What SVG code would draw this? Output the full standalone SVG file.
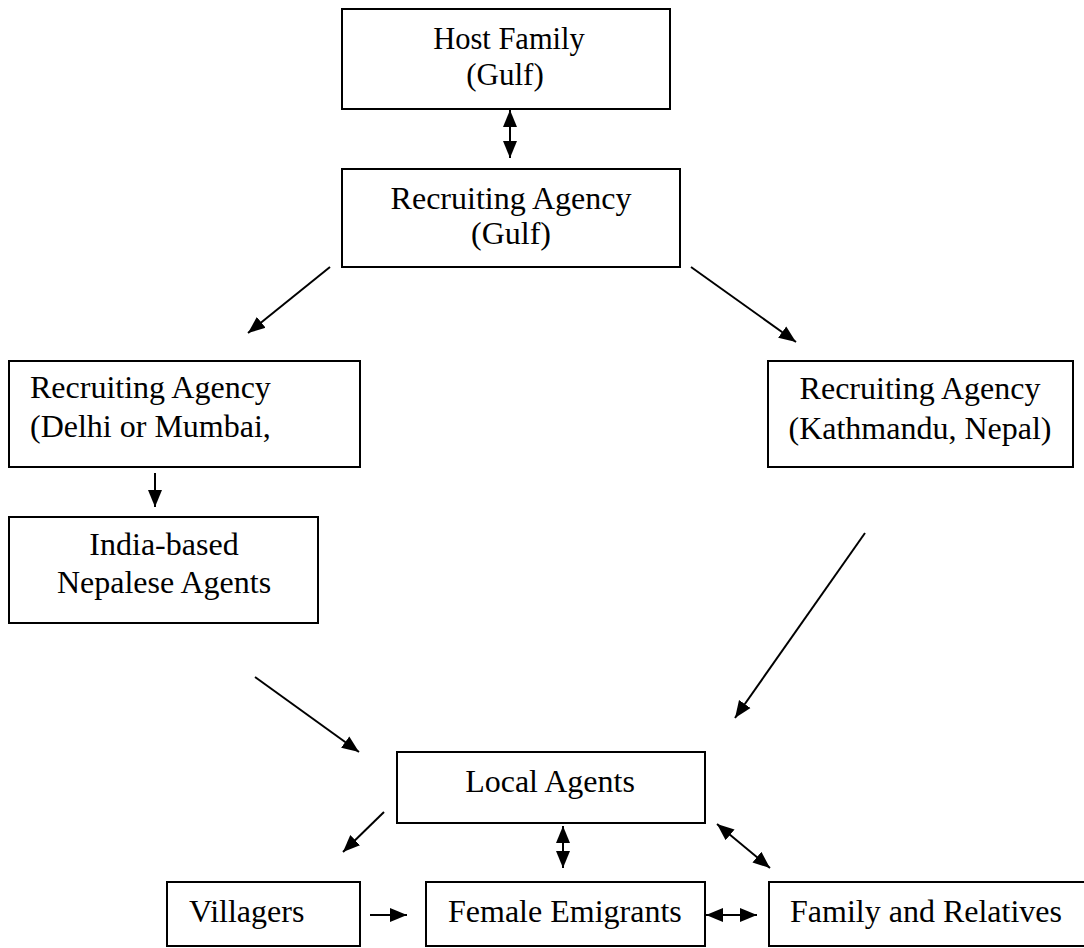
<svg xmlns="http://www.w3.org/2000/svg" width="1084" height="948" viewBox="0 0 1084 948">
<style>
.box{fill:#fff;stroke:#000;stroke-width:2}
.t{font-family:"Liberation Serif","Times New Roman",serif;font-size:32px;fill:#000}
.c{text-anchor:middle}
.ln{stroke:#000;stroke-width:2;fill:none}
</style>
<defs>
<marker id="ah" markerUnits="userSpaceOnUse" markerWidth="18" markerHeight="16" refX="17" refY="8" orient="auto-start-reverse" viewBox="0 0 18 16">
<path d="M0,1 L17,8 L0,15 z" fill="#000"/>
</marker>
</defs>
<rect width="1084" height="948" fill="#fff"/>
<g id="host-family"><rect class="box" x="342" y="9" width="328" height="100"/><text class="t c" x="509" y="49" style="font-size:30.5px">Host Family</text><text class="t c" x="505" y="85" style="font-size:31px">(Gulf)</text></g>
<g id="recruiting-gulf"><rect class="box" x="342" y="169" width="338" height="98"/><text class="t c" x="511" y="209">Recruiting Agency</text><text class="t c" x="511" y="244">(Gulf)</text></g>
<g id="recruiting-delhi"><rect class="box" x="9" y="361" width="351" height="106"/><text class="t" x="30" y="398">Recruiting Agency</text><text class="t" x="30" y="437">(Delhi or Mumbai,</text></g>
<g id="india-based"><rect class="box" x="9" y="517" width="309" height="106"/><text class="t c" x="164" y="555">India-based</text><text class="t c" x="164" y="593">Nepalese Agents</text></g>
<g id="recruiting-kathmandu"><rect class="box" x="768" y="361" width="305" height="106"/><text class="t c" x="920" y="399">Recruiting Agency</text><text class="t c" x="920" y="439">(Kathmandu, Nepal)</text></g>
<g id="local-agents"><rect class="box" x="397" y="752" width="308" height="71"/><text class="t c" x="550" y="792">Local Agents</text></g>
<g id="villagers"><rect class="box" x="167" y="882" width="193" height="64"/><text class="t" x="189" y="922">Villagers</text></g>
<g id="female-emigrants"><rect class="box" x="426" y="882" width="279" height="64"/><text class="t" x="448" y="922">Female Emigrants</text></g>
<g id="family-relatives"><rect class="box" x="769" y="882" width="340" height="64"/><text class="t" x="790" y="922">Family and Relatives</text></g>
<g id="connectors">
<line class="ln" x1="510" y1="110" x2="510" y2="158" marker-start="url(#ah)" marker-end="url(#ah)"/>
<line class="ln" x1="330" y1="267" x2="248" y2="333" marker-end="url(#ah)"/>
<line class="ln" x1="691" y1="267" x2="796" y2="342" marker-end="url(#ah)"/>
<line class="ln" x1="155" y1="473" x2="155" y2="507" marker-end="url(#ah)"/>
<line class="ln" x1="255" y1="677" x2="359" y2="752" marker-end="url(#ah)"/>
<line class="ln" x1="865" y1="533" x2="735" y2="718" marker-end="url(#ah)"/>
<line class="ln" x1="384" y1="812" x2="343" y2="852" marker-end="url(#ah)"/>
<line class="ln" x1="563" y1="826" x2="563" y2="868" marker-start="url(#ah)" marker-end="url(#ah)"/>
<line class="ln" x1="717" y1="824" x2="770" y2="868" marker-start="url(#ah)" marker-end="url(#ah)"/>
<line class="ln" x1="370" y1="915" x2="407" y2="915" marker-end="url(#ah)"/>
<line class="ln" x1="706" y1="915" x2="757" y2="915" marker-start="url(#ah)" marker-end="url(#ah)"/>
</g>
</svg>
